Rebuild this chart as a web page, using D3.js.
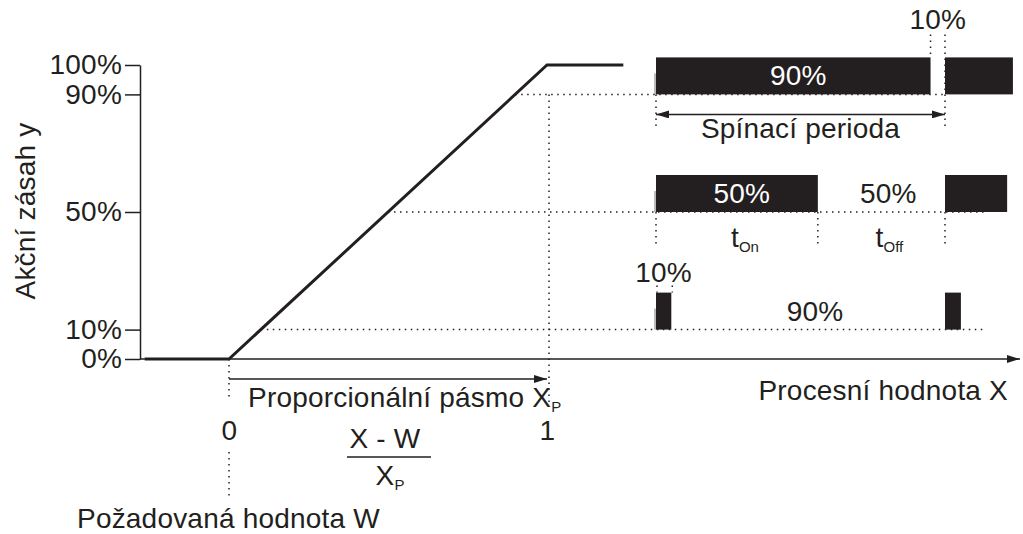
<!DOCTYPE html>
<html>
<head>
<meta charset="utf-8">
<script src="https://d3js.org/d3.v7.min.js"></script>
<style>
  body { margin: 0; background: #fff; }
  svg text {
    font-family: "Liberation Sans", Arial, sans-serif;
    font-size: 28px;
    letter-spacing: 0.2px;
    fill: #231f20;
  }
</style>
</head>
<body>
<svg id="chart" width="1023" height="534"></svg>
<script>
  // y axis ticks, percent of output
  const yTicks = [0, 10, 50, 90, 100]
  // controller output y over (X - W) / Xp
  const curveX = [-0.265, 0, 1, 1.24]
  const curveY = [0, 0, 100, 100]
  const xTicks = [0, 1]
  // pulse rows: duty level, end of first pulse, end of the next pulse (in switching periods)
  const dutyLevels = [90, 50, 10]
  const onEnd = [0.95, 0.56, 0.053]
  const nextEnd = [1.235, 1.215, 1.055]
  const onLabels = ["90%", "50%", "10%"]
  const offLabels = ["10%", "50%", "90%"]

  const ink = "#231f20"
  const svg = d3.select("#chart")
  const y = d3.scaleLinear().domain([0, 100]).range([359, 65])
  const x = d3.scaleLinear().domain([0, 1]).range([229, 547])
  const t = d3.scaleLinear().domain([0, 1]).range([656, 945])
  const barH = 37

  const defs = svg.append("defs")
  defs.append("marker")
    .attr("id", "arrow")
    .attr("markerUnits", "userSpaceOnUse")
    .attr("markerWidth", 13).attr("markerHeight", 8)
    .attr("refX", 13).attr("refY", 4)
    .attr("orient", "auto-start-reverse")
    .append("path").attr("d", "M0,0 L13,4 L0,8 Z").attr("fill", ink)

  const dotted = (x1, y1, x2, y2) => svg.append("line")
    .attr("x1", x1).attr("y1", y1).attr("x2", x2).attr("y2", y2)
    .attr("stroke", ink).attr("stroke-width", 1.5)
    .attr("stroke-dasharray", "1.5,4.5")

  // guide lines from the curve to the pulse rows
  dutyLevels.forEach((d, i) => {
    const xEnd = i == 0 ? t(1) : t(1.14)
    dotted(x(d / 100), y(d), xEnd, y(d))
  })
  dotted(x(1) + 2, y(90), x(1) + 2, 402)
  dotted(x(0), y(0), x(0), 400)
  dotted(x(0), 452, x(0), 497)

  // pulse row annotations
  dutyLevels.forEach((d, i) => {
    const bottom = y(d), top = bottom - barH
    if (i == 0) {
      dotted(t(0), bottom, t(0), bottom + 33)
      dotted(t(1), top - 23, t(1), bottom + 33)
      dotted(t(onEnd[i]), top - 23, t(onEnd[i]), top)
    } else if (i == 1) {
      [0, onEnd[i], 1].forEach(v => dotted(t(v), bottom, t(v), bottom + 36))
    } else {
      [0, onEnd[i]].forEach(v => dotted(t(v) + 1, top - 7, t(v) + 1, top))
    }
    svg.append("line")
      .attr("x1", t(0) - 1).attr("x2", t(0) - 1)
      .attr("y1", bottom - 21).attr("y2", bottom)
      .attr("stroke", "#777").attr("stroke-width", 1)
  })

  // pulses
  const rows = svg.append("g").selectAll("g")
    .data(dutyLevels).enter().append("g")
  rows.append("rect")
    .attr("x", t(0)).attr("y", d => y(d) - barH)
    .attr("width", (d, i) => t(onEnd[i]) - t(0)).attr("height", barH)
    .attr("fill", ink)
  rows.append("rect")
    .attr("x", t(1)).attr("y", d => y(d) - barH)
    .attr("width", (d, i) => t(nextEnd[i]) - t(1)).attr("height", barH)
    .attr("fill", ink)

  // on labels: inside the pulse if it is wide, else above it
  rows.append("text")
    .attr("text-anchor", "middle")
    .attr("x", (d, i) => {
      const w = t(onEnd[i]) - t(0)
      return (t(0) + t(onEnd[i])) / 2 + (w > 60 ? 5 : 0)
    })
    .attr("y", (d, i) => t(onEnd[i]) - t(0) > 60 ? y(d) - 9 : y(d) - barH - 11)
    .style("fill", (d, i) => t(onEnd[i]) - t(0) > 60 ? "#fff" : ink)
    .text((d, i) => onLabels[i])
  // off labels: inside the gap if it is wide, else above it
  rows.append("text")
    .attr("text-anchor", "middle")
    .attr("x", (d, i) => {
      const w = t(1) - t(onEnd[i])
      return (t(1) + t(onEnd[i])) / 2 + (w > 60 ? 7 : 0)
    })
    .attr("y", (d, i) => t(1) - t(onEnd[i]) > 60 ? y(d) - 9 : y(d) - barH - 28)
    .text((d, i) => offLabels[i])

  // switching period
  const r0 = y(dutyLevels[0])
  svg.append("line")
    .attr("x1", t(0)).attr("x2", t(1)).attr("y1", r0 + 20).attr("y2", r0 + 20)
    .attr("stroke", ink).attr("stroke-width", 1.5)
    .attr("marker-start", "url(#arrow)").attr("marker-end", "url(#arrow)")
  svg.append("text").attr("text-anchor", "middle")
    .attr("x", t(0.5)).attr("y", r0 + 44).text("Spínací perioda")

  // t_on / t_off
  const r1 = y(dutyLevels[1])
  const tLab = (cx, sub) => {
    const tx = svg.append("text").attr("text-anchor", "middle")
      .attr("x", cx).attr("y", r1 + 35)
    tx.append("tspan").text("t")
    tx.append("tspan").attr("dy", 5).style("font-size", "15px").style("letter-spacing", "0px").text(sub)
  }
  tLab(t(onEnd[1] / 2) + 8, "On")
  tLab(t((1 + onEnd[1]) / 2) + 8, "Off")

  // axes
  const yAxis = svg.append("g").attr("transform", "translate(140,0)")
    .style("color", ink)
    .call(d3.axisLeft(y).tickValues(yTicks).tickSize(15).tickSizeOuter(0)
      .tickPadding(3).tickFormat(d => d + "%"))
  yAxis.selectAll("path, line").attr("stroke-width", 1.5)

  svg.append("line")
    .attr("x1", 140).attr("x2", 1020).attr("y1", y(0)).attr("y2", y(0))
    .attr("stroke", ink).attr("stroke-width", 1.5)
    .attr("marker-end", "url(#arrow)")

  const xAxis = svg.append("g").attr("transform", `translate(0,${y(0)})`)
    .style("color", ink)
    .call(d3.axisBottom(x).tickValues(xTicks).tickSize(0).tickPadding(61).tickFormat(d3.format("d")))
  xAxis.select(".domain").remove()

  // controller characteristic
  const line = d3.line().x(d => x(d[0])).y(d => y(d[1]))
  svg.append("path")
    .datum(curveX.map((v, i) => [v, curveY[i]]))
    .attr("d", line)
    .attr("fill", "none").attr("stroke", ink).attr("stroke-width", 3)

  // proportional band
  svg.append("line")
    .attr("x1", x(0)).attr("x2", x(1)).attr("y1", 379).attr("y2", 379)
    .attr("stroke", ink).attr("stroke-width", 1.5)
    .attr("marker-end", "url(#arrow)")
  const pb = svg.append("text").attr("x", 248).attr("y", 407)
  pb.append("tspan").text("Proporcionální pásmo X")
  pb.append("tspan").attr("dy", 5).style("font-size", "15px").style("letter-spacing", "0px").text("P")

  // (X - W) / Xp
  svg.append("text").attr("text-anchor", "middle").attr("x", 385).attr("y", 448).text("X - W")
  svg.append("line").attr("x1", 347).attr("x2", 431).attr("y1", 457).attr("y2", 457)
    .attr("stroke", ink).attr("stroke-width", 1.5)
  const fx = svg.append("text").attr("text-anchor", "middle").attr("x", 390).attr("y", 485)
  fx.append("tspan").text("X")
  fx.append("tspan").attr("dy", 5).style("font-size", "15px").style("letter-spacing", "0px").text("P")

  // axis titles
  svg.append("text").attr("x", 1008).attr("y", 400).attr("text-anchor", "end").text("Procesní hodnota X")
  svg.append("text").attr("x", 77).attr("y", 528).text("Požadovaná hodnota W")
  svg.append("text").attr("text-anchor", "middle")
    .attr("transform", "translate(35,211) rotate(-90)").text("Akční zásah y")
</script>
</body>
</html>
